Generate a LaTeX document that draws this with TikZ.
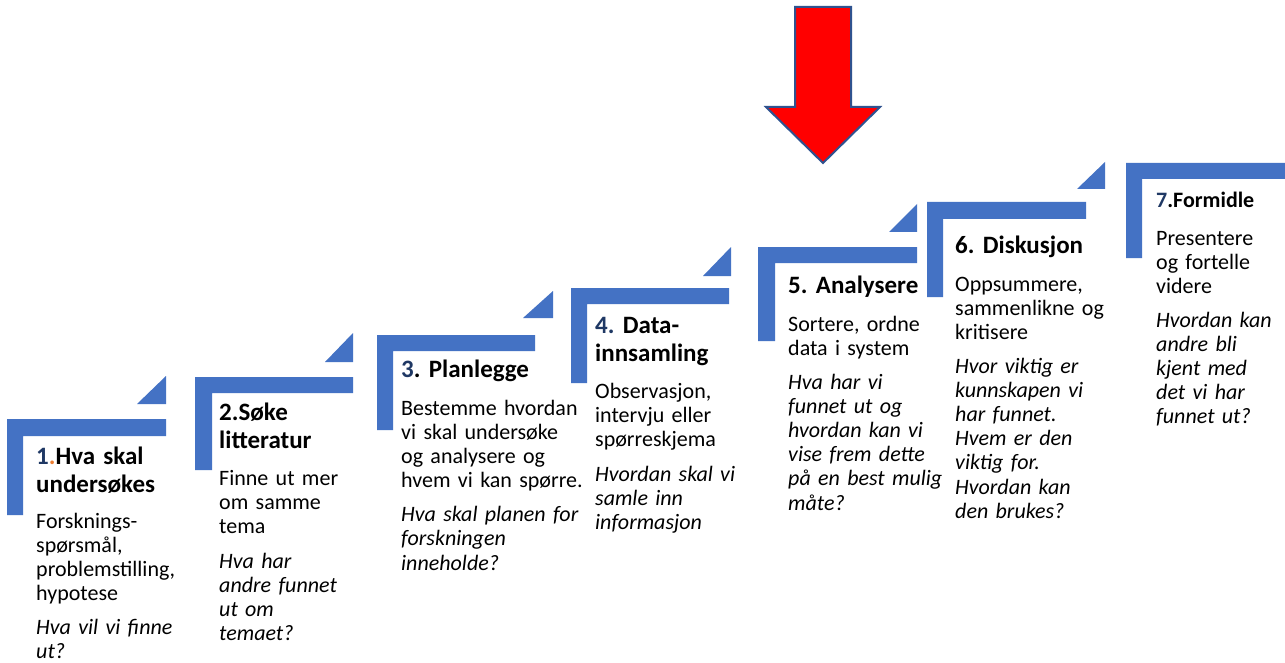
\documentclass[tikz,border=0pt]{standalone}
\usepackage{fontspec}
\setmainfont{Carlito}
\frenchspacing
\definecolor{stepblue}{HTML}{4472C4}
\definecolor{navy}{HTML}{1F3864}
\definecolor{dotorange}{HTML}{ED7D31}
\definecolor{arrowline}{HTML}{2F528F}
\definecolor{arrowred}{HTML}{FF0000}
\begin{document}
\begin{tikzpicture}[x=1pt,y=-1pt,
  body/.style={anchor=base west, inner sep=0pt, text width=230pt, align=left,
    font=\fontsize{22}{24.2}\selectfont\frenchspacing},
  quest/.style={body, font=\fontsize{22}{24.2}\selectfont\itshape\frenchspacing},
  ttl/.style={body, font=\fontsize{25}{28}\selectfont\bfseries\frenchspacing},
  ttlsmall/.style={body, font=\fontsize{22}{24.2}\selectfont\bfseries\frenchspacing},
  bracket/.style={fill=stepblue, draw=none},
  redarrow/.style={fill=arrowred, draw=arrowline, line width=2pt, line join=miter},
  ]
\useasboundingbox (0,0) rectangle (1285,663);
\fill[white] (0,0) rectangle (1285,663);

% L-shaped brackets: xl/xi/xr/yt/yb/yv
\foreach \xl/\xi/\xr/\yt/\yb/\yv in {
  7/23/166/419/436/515,
  195/212/353/377/393/470,
  377/393/535/335/351/430,
  571/587/729/288/304/383,
  758/775/917/247/263/341,
  927/943/1086/202/219/297,
  1126/1142/1285/163/179/258}
  \fill[bracket] (\xl,\yt) -- (\xr,\yt) -- (\xr,\yb) -- (\xi,\yb) -- (\xi,\yv) -- (\xl,\yv) -- cycle;

% triangles: left/right/top/bottom
\foreach \a/\b/\c/\d in {
  137/166/376/404,
  325/353/333/362,
  523/553/291/318,
  703/731/247/276,
  889/917/204/232,
  1077/1105/162/189}
  \fill[bracket] (\b,\c) -- (\b,\d) -- (\a,\d) -- cycle;

% red arrow
\draw[redarrow] (795,7) -- (851,7) -- (851,107) -- (880,107) -- (823,163) -- (766,107) -- (795,107) -- cycle;

% Step 1
\node[ttl] (t1) at (36,464) {\leavevmode\textcolor{navy}{1}\textcolor{dotorange}{.}Hva skal\\undersøkes};
\node[body] (b1) at (36,528) {Forsknings-\\spørsmål,\\problemstilling,\\hypotese};
\node[quest] (q1) at (36,634) {Hva vil vi finne\\ut?};

% Step 2
\node[ttl] (t2) at (219,420) {2.Søke\\litteratur};
\node[body] (b2) at (219,485.5) {Finne ut mer\\om samme\\tema};
\node[quest] (q2) at (219,568) {Hva har\\andre funnet\\ut om\\temaet?};

% Step 3
\node[ttl] (t3) at (401,377) {\leavevmode\textcolor{navy}{3}. Planlegge};
\node[body] (b3) at (401,415) {Bestemme hvordan\\vi skal undersøke\\og analysere og\\hvem vi kan spørre.};
\node[quest] (q3) at (401,521.6) {Hva skal planen for\\forskningen\\inneholde?};

% Step 4
\node[ttl] (t4) at (595,333) {\leavevmode\textcolor{navy}{4.} Data-\\innsamling};
\node[body] (b4) at (595,398.5) {Observasjon,\\intervju eller\\spørreskjema};
\node[quest] (q4) at (595,481) {Hvordan skal vi\\samle inn\\informasjon};

% Step 5
\node[ttl] (t5) at (788,293) {5. Analysere};
\node[body] (b5) at (788,331) {Sortere, ordne\\data i system};
\node[quest] (q5) at (788,389) {Hva har vi\\funnet ut og\\hvordan kan vi\\vise frem dette\\på en best mulig\\måte?};

% Step 6
\node[ttl] (t6) at (955,253) {6. Diskusjon};
\node[body] (b6) at (955,291) {Oppsummere,\\sammenlikne og\\kritisere};
\node[quest] (q6) at (955,373) {Hvor viktig er\\kunnskapen vi\\har funnet.\\Hvem er den\\viktig for.\\Hvordan kan\\den brukes?};

% Step 7
\node[ttlsmall] (t7) at (1156,208) {\leavevmode\textcolor{navy}{7}.Formidle};
\node[body] (b7) at (1156,245) {Presentere\\og fortelle\\videre};
\node[quest] (q7) at (1156,327) {Hvordan kan\\andre bli\\kjent med\\det vi har\\funnet ut?};
\end{tikzpicture}
\end{document}
